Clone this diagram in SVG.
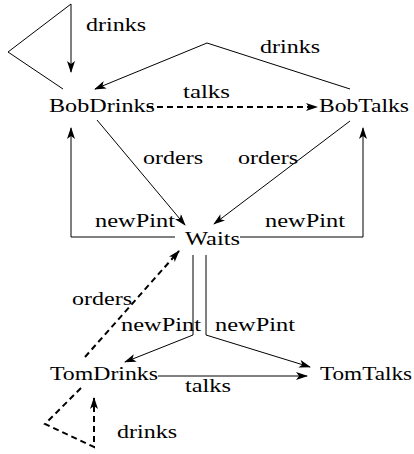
<svg xmlns="http://www.w3.org/2000/svg" width="414" height="454" viewBox="0 0 414 454">
<style>
text{font-size:19px;fill:#000}
.e{fill:none;stroke:#000;stroke-width:1}
.d{fill:none;stroke:#000;stroke-width:2;stroke-dasharray:6,4}
</style>
<defs>
<marker id="a" viewBox="0 0 12 8" refX="11" refY="4" markerWidth="12" markerHeight="8" markerUnits="userSpaceOnUse" orient="auto">
<path d="M0,0 L12,4 L0,8 L3,4 z" fill="#000"/>
</marker>
</defs>
<rect width="414" height="454" fill="#fff"/>
<g id="connectors">
<polyline class="e" points="63,89 8,52 71,4 71,72" marker-end="url(#a)"/>
<polyline class="e" points="350,89 207,43 95,89" marker-end="url(#a)"/>
<line class="d" x1="147" y1="107" x2="317" y2="107" marker-end="url(#a)"/>
<line class="e" x1="97" y1="120" x2="185" y2="225" marker-end="url(#a)"/>
<line class="e" x1="350" y1="121" x2="214" y2="224" marker-end="url(#a)"/>
<polyline class="e" points="175,237 71,237 71,128" marker-end="url(#a)"/>
<polyline class="e" points="240,237 363,237 363,128" marker-end="url(#a)"/>
<line class="d" x1="85" y1="357" x2="179" y2="251" marker-end="url(#a)"/>
<polyline class="d" points="81,388 45,424 94,447 94,398" marker-end="url(#a)"/>
<polyline class="e" points="193,255 193,335 125,362" marker-end="url(#a)"/>
<polyline class="e" points="206,255 206,335 310,367" marker-end="url(#a)"/>
<line class="e" x1="158" y1="376" x2="307" y2="376" marker-end="url(#a)"/>
</g>
<g font-family="'Liberation Serif', 'Times New Roman', serif">
<g id="labels">
<text x="86" y="31" textLength="60" lengthAdjust="spacingAndGlyphs">drinks</text>
<text x="260" y="53" textLength="60" lengthAdjust="spacingAndGlyphs">drinks</text>
<text x="183" y="98" textLength="47" lengthAdjust="spacingAndGlyphs">talks</text>
<text x="143" y="164" textLength="60" lengthAdjust="spacingAndGlyphs">orders</text>
<text x="238" y="164" textLength="60" lengthAdjust="spacingAndGlyphs">orders</text>
<text x="95" y="227" textLength="80" lengthAdjust="spacingAndGlyphs">newPint</text>
<text x="265" y="227" textLength="80" lengthAdjust="spacingAndGlyphs">newPint</text>
<text x="72" y="305" textLength="60" lengthAdjust="spacingAndGlyphs">orders</text>
<text x="121" y="331" textLength="80" lengthAdjust="spacingAndGlyphs">newPint</text>
<text x="215" y="331" textLength="80" lengthAdjust="spacingAndGlyphs">newPint</text>
<text x="185" y="392" textLength="46" lengthAdjust="spacingAndGlyphs">talks</text>
<text x="117" y="438" textLength="60" lengthAdjust="spacingAndGlyphs">drinks</text>
</g>
<g id="BobDrinks"><text x="49" y="112" textLength="106" lengthAdjust="spacingAndGlyphs">BobDrinks</text></g>
<g id="BobTalks"><text x="319" y="112" textLength="90" lengthAdjust="spacingAndGlyphs">BobTalks</text></g>
<g id="Waits"><text x="185" y="245" textLength="55" lengthAdjust="spacingAndGlyphs">Waits</text></g>
<g id="TomDrinks"><text x="50" y="380" textLength="108" lengthAdjust="spacingAndGlyphs">TomDrinks</text></g>
<g id="TomTalks"><text x="320" y="380" textLength="92" lengthAdjust="spacingAndGlyphs">TomTalks</text></g>
</g>
</svg>
